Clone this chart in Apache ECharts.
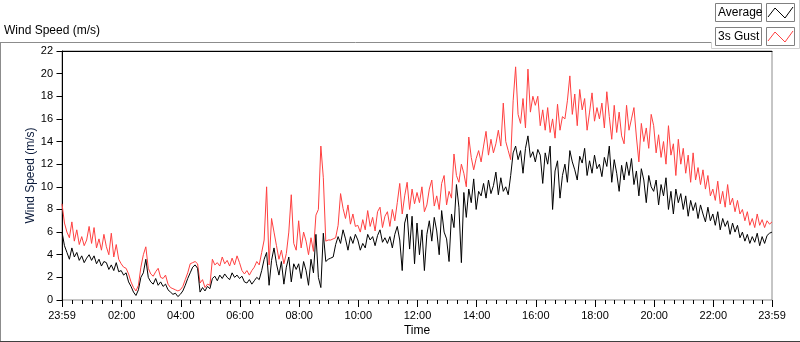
<!DOCTYPE html>
<html>
<head>
<meta charset="utf-8">
<script src="https://cdn.jsdelivr.net/npm/echarts@6/dist/echarts.min.js"></script>
<style>
  html, body { margin: 0; padding: 0; background: #fff; }
  #chart { width: 800px; height: 342px; }
</style>
</head>
<body>
<div id="chart"></div>
<script>
// 时间轴：从前一天 23:59 开始，每 5 分钟一个点
var startMinute = -1;
var stepMinutes = 5;

// 平均风速 (m/s)
var averageSpeed = [
  6.0, 4.8, 4.2, 3.6, 4.6, 3.8, 4.2, 3.5, 3.9, 3.3, 3.7, 4.0,
  3.5, 3.9, 3.2, 3.6, 3.0, 3.4, 3.3, 2.7, 3.1, 2.6, 3.3, 2.5,
  2.6, 2.2, 2.4, 1.6, 1.2, 0.7, 0.4, 0.9, 2.0, 2.4, 3.6, 2.0,
  1.6, 1.4, 1.9, 1.3, 1.6, 1.2, 1.4, 0.9, 0.7, 0.5, 0.6, 0.3,
  0.5, 0.8, 1.3, 1.9, 2.4, 2.9, 3.1, 2.8, 0.7, 1.1, 0.8, 1.2,
  1.0, 1.9, 2.1, 1.7, 2.2, 1.9, 2.3, 2.0, 1.8, 2.4, 2.0, 2.2,
  1.9, 2.1, 1.6, 1.5, 1.8, 1.4, 1.7, 2.0, 1.8, 2.6, 3.6, 4.2,
  1.3, 3.5, 4.6, 3.2, 2.2, 3.4, 1.4, 2.9, 3.8, 1.6, 3.2, 2.7,
  3.2, 1.9, 3.4, 2.6, 1.3, 3.6, 2.4, 5.8, 2.0, 1.1, 5.9, 3.4,
  3.6, 3.7, 3.8, 4.9, 5.6, 5.0, 6.2, 5.4, 4.4, 5.6, 5.0, 5.8,
  5.3, 4.4, 5.0, 4.6, 5.8, 5.3, 5.6, 4.8, 5.7, 6.2, 5.1, 5.5,
  5.0, 5.6, 4.6, 5.8, 6.5, 5.3, 2.6, 6.8, 7.6, 4.5, 7.4, 3.2,
  6.8, 4.0, 6.2, 2.6, 5.8, 7.0, 5.2, 7.3, 6.1, 4.0, 7.9, 6.0,
  5.4, 3.4, 7.6, 6.4, 10.2, 8.2, 3.3, 9.5, 7.3, 9.8, 8.6, 10.7,
  8.0, 9.6, 9.2, 10.3, 9.0, 10.6, 9.4, 10.1, 11.3, 9.3, 10.8, 9.6,
  10.0, 9.3, 11.0, 13.0, 13.6, 12.4, 13.2, 11.2, 13.4, 14.5, 12.6, 13.1,
  12.2, 13.3, 12.8, 10.3, 13.0, 12.0, 13.6, 8.0, 11.4, 12.3, 9.0, 11.0,
  12.0, 10.4, 13.2, 12.2, 11.5, 10.6, 12.7, 12.1, 13.4, 11.0, 12.3, 11.2,
  12.8, 11.6, 12.0, 10.9, 12.6, 11.8, 13.6, 10.4, 12.4, 11.2, 9.6, 11.9,
  10.6, 12.2, 11.0, 12.5, 10.2, 11.4, 9.2, 11.6, 10.6, 8.6, 11.0, 10.0,
  9.6, 10.6, 8.4, 10.2, 9.2, 10.8, 8.0, 9.6, 7.6, 9.8, 8.6, 9.4,
  8.0, 9.2, 7.4, 8.8, 7.9, 8.6, 7.2, 8.4, 7.6, 6.9, 8.2, 7.0,
  7.6, 6.6, 7.8, 6.2, 7.2, 6.5, 7.0, 5.8, 6.8, 6.0, 6.6, 5.5,
  6.0, 5.2, 5.8, 5.0, 5.6, 5.1, 5.9, 4.8, 5.6, 5.0, 5.7, 5.9,
  6.0
];

// 3秒阵风 (m/s)
var gustSpeed = [
  8.5, 6.8, 6.0, 5.5, 6.9, 5.2, 6.2, 4.9, 5.6, 4.8, 5.3, 6.5,
  5.0, 6.4, 4.6, 5.4, 4.4, 5.8, 4.7, 4.0, 5.9, 3.8, 4.9, 3.6,
  3.2, 2.9, 2.8, 2.3, 1.6, 1.1, 0.8, 1.3, 2.9, 4.0, 4.7, 2.8,
  2.3, 2.1, 2.5, 2.8, 2.0, 1.9, 2.2, 1.4, 1.1, 1.0, 0.9, 0.8,
  0.9, 1.2, 1.8, 2.4, 3.2, 3.3, 3.4, 3.2, 1.5, 1.8, 1.1, 1.4,
  1.3, 3.6, 3.1, 3.3, 3.0, 3.8, 3.2, 3.5, 3.0, 3.7, 3.1, 3.9,
  3.3, 2.6, 2.3, 2.6, 2.2, 2.6, 2.9, 3.4, 3.1, 4.2, 5.3, 10.0,
  3.1, 7.2, 6.0, 4.8, 3.6, 4.4, 3.2, 4.1, 6.0, 9.3, 5.0, 4.4,
  7.0, 4.6, 6.0, 5.2, 4.0, 5.5, 4.3, 7.5, 8.0, 13.6, 10.8, 5.2,
  5.3, 5.3, 5.4, 5.5, 6.6, 9.4, 8.1, 7.2, 8.4, 6.7, 7.6, 6.5,
  6.6, 6.0, 7.1, 6.2, 7.9, 6.5, 7.3, 6.1, 7.8, 8.2, 6.4, 7.4,
  7.8, 6.5, 8.0, 7.0, 8.6, 10.3, 7.6, 9.2, 10.4, 8.0, 9.8, 8.5,
  9.5, 8.6, 10.0, 7.8, 8.4, 9.8, 10.6, 8.3, 9.2, 8.0, 10.3, 11.0,
  8.4, 9.6, 9.0, 12.9, 11.0, 10.4, 12.0, 11.2, 10.0, 14.4, 12.6, 11.5,
  12.5, 13.2, 12.2, 13.6, 14.9, 12.8, 14.2, 13.0, 13.8, 15.0, 13.6, 17.4,
  14.0, 13.2, 12.4, 17.6, 20.6, 16.4, 15.6, 17.8, 15.2, 20.4, 16.6, 18.0,
  17.2, 18.0, 15.4, 16.8, 15.0, 17.0, 14.8, 16.0, 14.3, 17.3, 15.0, 16.2,
  16.0, 17.6, 19.8, 16.4, 18.2, 15.4, 18.6, 16.8, 17.8, 15.0, 16.6, 18.3,
  15.8, 17.0, 16.0, 17.4, 15.2, 18.4, 16.2, 14.2, 17.2, 14.8, 16.6, 14.5,
  13.8, 17.2, 15.0, 16.0, 17.0, 14.4, 12.2, 15.6, 14.0, 15.2, 13.4, 16.4,
  15.4, 13.0, 14.6, 12.6, 14.0, 12.0, 15.4, 12.8, 13.8, 11.0, 14.2, 12.0,
  13.4, 11.2, 12.8, 10.4, 13.0, 10.6, 11.7, 10.2, 11.5, 9.8, 11.0, 9.2,
  9.8, 8.8, 10.5, 8.5, 9.6, 8.2, 10.2, 8.4, 9.0, 7.8, 8.8, 7.6,
  8.0, 7.0, 7.8, 6.6, 7.2, 6.4, 7.6, 6.6, 7.1, 6.4, 7.0, 6.7,
  6.9
];

// 刻度
var xTickValues = [-1, 120, 240, 360, 480, 600, 720, 840, 960, 1080, 1200, 1320, 1439];
var xTickLabels = ['23:59', '02:00', '04:00', '06:00', '08:00', '10:00', '12:00',
  '14:00', '16:00', '18:00', '20:00', '22:00', '23:59'];
var seriesNames = ['Average', '3s Gust'];

var xMinorTicks = [];
for (var m = 20; m < 1440; m += 20) {
  if (m % 120 !== 0) xMinorTicks.push(m);
}

function toPoints(arr) {
  return arr.map(function (v, i) { return [startMinute + i * stepMinutes, v]; });
}

var myChart = echarts.init(document.getElementById('chart'));
var font = 'Liberation Sans, Arial, sans-serif';

// 图例
function legendItem(y, name, color) {
  return [
    { type: 'rect', shape: { x: 715.5, y: y + 0.5, width: 46, height: 18 },
      style: { fill: '#fff', stroke: '#808080', lineWidth: 1 } },
    { type: 'text', x: 718, y: y + 10, style: { text: name, fill: '#000', font: '12px ' + font, verticalAlign: 'middle' } },
    { type: 'rect', shape: { x: 766.5, y: y + 0.5, width: 28, height: 18 },
      style: { fill: '#fff', stroke: '#808080', lineWidth: 1 } },
    { type: 'polyline', shape: { points: [[768, y + 14], [775, y + 5], [785, y + 15], [793, y + 4]] },
      style: { stroke: color, lineWidth: 1, fill: null } }
  ];
}

var option = {
  animation: false,
  backgroundColor: '#fff',
  title: {
    text: 'Wind Speed (m/s)', left: 4, top: 25, padding: 0,
    textStyle: { fontSize: 12, fontWeight: 'normal', color: '#000', fontFamily: font }
  },
  grid: {
    left: 62, right: 28, top: 51, bottom: 40,
    show: true, borderColor: '#8c8c8c', borderWidth: 1, backgroundColor: '#fff'
  },
  xAxis: [{
    type: 'value', min: -1, max: 1439,
    name: 'Time', nameLocation: 'middle', nameGap: 25, nameMoveOverlap: false,
    nameTextStyle: { fontSize: 12, color: '#000', fontFamily: font },
    axisLine: { show: false },
    axisTick: { show: true, inside: false, length: 7, customValues: xTickValues, lineStyle: { color: '#000' } },
    axisLabel: {
      customValues: xTickValues, margin: 10, fontSize: 11, color: '#000', fontFamily: font,
      formatter: function (v) {
        var k = xTickValues.indexOf(v);
        return k >= 0 ? xTickLabels[k] : '';
      }
    },
    splitLine: { show: false }
  }, {
    type: 'value', min: -1, max: 1439, position: 'bottom', offset: 0,
    axisLine: { show: false },
    axisTick: { show: true, length: 4, customValues: xMinorTicks, lineStyle: { color: '#000' } },
    axisLabel: { show: false },
    splitLine: { show: false }
  }, {
    type: 'value', min: -1, max: 1439, position: 'top',
    axisLine: { show: true, lineStyle: { color: '#000', width: 1 } },
    axisTick: { show: false }, axisLabel: { show: false }, splitLine: { show: false }
  }],
  yAxis: {
    type: 'value', min: 0, max: 22, interval: 2,
    name: 'Wind Speed (m/s)', nameLocation: 'middle', nameGap: 25, nameMoveOverlap: false,
    nameTextStyle: { fontSize: 12, color: '#0a1a3a', fontFamily: font },
    axisLine: { show: true, lineStyle: { color: '#000', width: 1 } },
    axisTick: { show: true, length: 6, lineStyle: { color: '#000' } },
    axisLabel: { fontSize: 11, color: '#000', margin: 9, fontFamily: font },
    splitLine: { show: false }
  },
  series: [{
    name: seriesNames[1], type: 'line', data: toPoints(gustSpeed),
    showSymbol: false, symbol: 'none', lineStyle: { color: '#ff4040', width: 1 }
  }, {
    name: seriesNames[0], type: 'line', data: toPoints(averageSpeed),
    showSymbol: false, symbol: 'none', lineStyle: { color: '#000', width: 1 }
  }],
  graphic: [
    // 外框
    { type: 'line', shape: { x1: 0, y1: 42.5, x2: 711, y2: 42.5 }, style: { stroke: '#8c8c8c', lineWidth: 1 } },
    { type: 'line', shape: { x1: 0.5, y1: 42, x2: 0.5, y2: 342 }, style: { stroke: '#8c8c8c', lineWidth: 1 } },
    { type: 'line', shape: { x1: 0, y1: 341.5, x2: 800, y2: 341.5 }, style: { stroke: '#404040', lineWidth: 1 } },
    { type: 'polyline', shape: { points: [[711.5, 42], [711.5, 48.5], [799.5, 48.5], [799.5, 0]] },
      style: { stroke: '#d0d0d0', lineWidth: 1, fill: null } }
  ].concat(legendItem(3, seriesNames[0], '#000'), legendItem(27, seriesNames[1], '#ff4040'))
};

myChart.setOption(option);
window.addEventListener('resize', function () { myChart.resize(); });
</script>
</body>
</html>
